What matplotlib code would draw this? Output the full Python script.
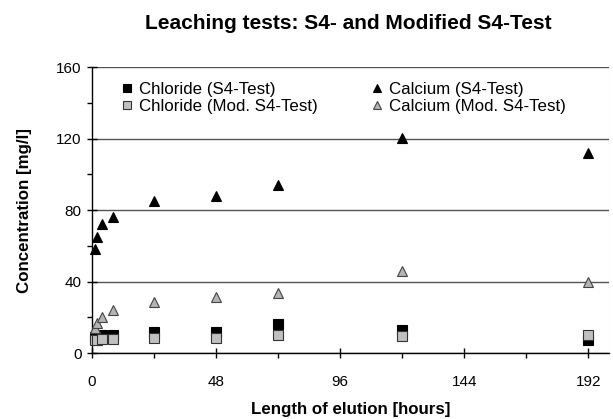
import matplotlib
matplotlib.use("Agg")
import matplotlib.pyplot as plt
from matplotlib.ticker import MultipleLocator

plt.rcParams['font.family'] = ['Liberation Sans', 'DejaVu Sans']

hours = [1, 2, 4, 8, 24, 48, 72, 120, 192]
chloride_s4 = [9, 9, 10, 10, 12, 12, 16.5, 13, 7.5]
chloride_mod = [7, 7, 8, 8, 8.5, 8.5, 10, 9.5, 10]
calcium_s4 = [58, 65, 72, 76, 85, 88, 94, 120.5, 112]
calcium_mod = [14, 17, 20, 24, 28.5, 31.5, 33.5, 46, 39.5]

x_ticks = [0, 48, 96, 144, 192]
y_ticks = [0, 40, 80, 120, 160]

fig = plt.figure(figsize=(6.13, 4.19), dpi=100)
ax = fig.add_axes([0.150, 0.1575, 0.8435, 0.6825])

ms = 6.5
h1, = ax.plot(hours, chloride_s4, 's', color='black', markersize=ms, markeredgecolor='black',
              markeredgewidth=0.8, label='Chloride (S4-Test)', clip_on=False, zorder=3)
h2, = ax.plot(hours, chloride_mod, 's', color='#c0c0c0', markersize=ms, markeredgecolor='#333333',
              markeredgewidth=0.8, label='Chloride (Mod. S4-Test)', clip_on=False, zorder=4)
h3, = ax.plot(hours, calcium_s4, '^', color='black', markersize=ms + 0.5, markeredgecolor='black',
              markeredgewidth=0.8, label='Calcium (S4-Test)', clip_on=False, zorder=3)
h4, = ax.plot(hours, calcium_mod, '^', color='#b4b4b4', markersize=ms + 0.5, markeredgecolor='#444444',
              markeredgewidth=0.8, label='Calcium (Mod. S4-Test)', clip_on=False, zorder=3)

ax.set_xlim(0, 200)
ax.set_ylim(0, 160)
ax.set_xticks(x_ticks)
ax.set_yticks(y_ticks)
ax.xaxis.set_minor_locator(MultipleLocator(24))
ax.yaxis.set_minor_locator(MultipleLocator(20))
ax.tick_params(which='major', direction='inout', length=7, width=1, labelsize=11, pad=4)
ax.tick_params(axis='x', which='major', pad=12)
ax.tick_params(which='minor', direction='out', length=3.5, width=1)

ax.grid(axis='y', which='major', color='#555555', linewidth=1)
ax.set_axisbelow(True)
for s in ['top', 'right']:
    ax.spines[s].set_visible(False)
for s in ['left', 'bottom']:
    ax.spines[s].set_linewidth(1)
ax.axvline(200, color='#dddddd', linewidth=0.8, zorder=0)

ax.set_xlabel('Length of elution [hours]', fontsize=12.2, fontweight='bold', labelpad=10)
ax.set_ylabel('Concentration [mg/l]', fontsize=12.2, fontweight='bold', labelpad=17)
fig.text(0.568, 0.945, 'Leaching tests: S4- and Modified S4-Test', ha='center', va='center',
         fontsize=15, fontweight='bold')

leg = ax.legend(handles=[h1, h2, h3, h4], ncol=2, loc='upper left', bbox_to_anchor=(0.055, 0.948),
                frameon=False, fontsize=12.2, handlelength=0.8, handletextpad=0.3,
                columnspacing=3.1, borderaxespad=0.0, borderpad=0.0, labelspacing=0.1,
                markerscale=0.85)

fig.savefig('out.png', dpi=100)
